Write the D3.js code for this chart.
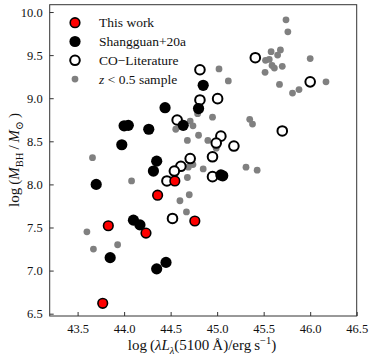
<!DOCTYPE html>
<html>
<head>
<meta charset="utf-8">
<script src="https://cdn.jsdelivr.net/npm/d3@7"></script>
<style>
  body { margin: 0; background: #fff; }
  text { font-family: "Liberation Serif", "DejaVu Serif", serif; }
</style>
</head>
<body>
<div id="chart"></div>
<script>
// data: [log L5100, log MBH]
const thisWork = [
  [43.77, 6.62], [43.83, 7.52], [44.235, 7.435], [44.36, 7.875],
  [44.545, 8.04], [44.76, 7.575]
]
const shangguan = [
  [43.70, 8.00], [43.85, 7.15], [44.00, 8.68], [44.045, 8.685], [43.975, 8.46],
  [44.10, 7.585], [44.17, 7.53], [44.265, 8.64], [44.315, 8.155], [44.35, 8.27],
  [44.35, 7.02], [44.45, 7.095], [44.44, 8.89], [44.635, 8.685], [44.80, 8.88],
  [44.85, 9.15], [45.04, 8.11], [45.06, 8.10]
]
const coLit = [
  [44.815, 9.33], [44.815, 8.98], [45.005, 8.995], [45.41, 9.47], [46.00, 9.19],
  [45.70, 8.62], [45.04, 8.56], [44.99, 8.48], [45.18, 8.445], [44.95, 8.32],
  [44.71, 8.30], [44.61, 8.21], [44.54, 8.155], [44.46, 8.04], [44.95, 8.09],
  [44.52, 7.605], [44.57, 8.747]
]
const lowZ = [
  [43.60, 7.45], [43.67, 7.25], [43.66, 8.31], [43.93, 7.30], [44.08, 8.04],
  [44.555, 8.64], [44.60, 7.81], [44.67, 7.68], [44.70, 7.88], [44.68, 8.08],
  [44.69, 8.20], [44.74, 8.23], [44.85, 8.18], [44.68, 8.51], [44.90, 8.51],
  [44.80, 8.57], [44.71, 8.735], [44.74, 8.68], [44.79, 8.82], [44.95, 8.78],
  [44.99, 8.42], [45.31, 8.20], [45.43, 8.165], [45.35, 8.755], [45.38, 8.70],
  [45.02, 9.34], [45.12, 9.20], [45.74, 9.91], [45.76, 9.77], [45.58, 9.54],
  [45.68, 9.56], [45.65, 9.50], [45.52, 9.44], [45.56, 9.45], [45.59, 9.38],
  [45.615, 9.35], [45.70, 9.37], [45.515, 9.30], [46.00, 9.46], [45.67, 9.16],
  [45.81, 9.06], [45.88, 9.10], [46.17, 9.19]
]
const xTicks = [43.5, 44.0, 44.5, 45.0, 45.5, 46.0, 46.5]
const yTicks = [6.5, 7.0, 7.5, 8.0, 8.5, 9.0, 9.5, 10.0]
const legendLabels = ["This work", "Shangguan+20a", "CO\u2212Literature", "z < 0.5 sample"]

const width = 374, height = 359
const svg = d3.select("#chart").append("svg")
  .attr("width", width)
  .attr("height", height)

const x = d3.scaleLinear().domain([43.2, 46.5]).range([49.7, 356.7])
const y = d3.scaleLinear().domain([6.473, 10.085]).range([316, 4.7])

// axes, ticks pointing inward
let xAxis = svg.append("g")
  .attr("transform", `translate(0,${y.range()[0]})`)
  .call(d3.axisBottom(x).tickValues(xTicks).tickFormat(d3.format(".1f"))
    .tickSizeInner(-4).tickSizeOuter(0).tickPadding(8))
let yAxis = svg.append("g")
  .attr("transform", `translate(${x.range()[0]},0)`)
  .call(d3.axisLeft(y).tickValues(yTicks).tickFormat(d3.format(".1f"))
    .tickSizeInner(-4).tickSizeOuter(0).tickPadding(7))

for (let ax of [xAxis, yAxis]) {
  ax.select(".domain").remove()
  ax.selectAll("line").attr("stroke", "#333")
  ax.selectAll("text")
    .style("font-size", "12.5px")
    .attr("fill", "#111")
}

// frame
svg.append("rect")
  .attr("x", x.range()[0])
  .attr("y", y.range()[1])
  .attr("width", x.range()[1] - x.range()[0])
  .attr("height", y.range()[0] - y.range()[1])
  .attr("fill", "none")
  .attr("stroke", "#333")
  .attr("stroke-width", 1)

const plot = svg.append("g")

plot.selectAll("circle.lowz").data(lowZ).enter().append("circle")
  .attr("class", "lowz")
  .attr("cx", d => x(d[0])).attr("cy", d => y(d[1]))
  .attr("r", 3.4)
  .attr("fill", "#808080")

plot.selectAll("circle.co").data(coLit).enter().append("circle")
  .attr("class", "co")
  .attr("cx", d => x(d[0])).attr("cy", d => y(d[1]))
  .attr("r", 4.8)
  .attr("fill", "#fff").attr("stroke", "#000").attr("stroke-width", 2)

plot.selectAll("circle.sg").data(shangguan).enter().append("circle")
  .attr("class", "sg")
  .attr("cx", d => x(d[0])).attr("cy", d => y(d[1]))
  .attr("r", 5.6)
  .attr("fill", "#000")

plot.selectAll("circle.tw").data(thisWork).enter().append("circle")
  .attr("class", "tw")
  .attr("cx", d => x(d[0])).attr("cy", d => y(d[1]))
  .attr("r", 4.8)
  .attr("fill", "#ff0000").attr("stroke", "#000").attr("stroke-width", 1.6)

// legend
const legend = svg.append("g")
const legendStyles = [
  {r: 4.8, fill: "#ff0000", stroke: "#000", sw: 1.6},
  {r: 5.6, fill: "#000", stroke: "none", sw: 0},
  {r: 4.8, fill: "#fff", stroke: "#000", sw: 2},
  {r: 3.4, fill: "#808080", stroke: "none", sw: 0}
]
legendLabels.forEach((lab, i) => {
  let cy = 22.7 + i * 18.8
  let s = legendStyles[i]
  legend.append("circle")
    .attr("cx", 75).attr("cy", cy).attr("r", s.r)
    .attr("fill", s.fill).attr("stroke", s.stroke).attr("stroke-width", s.sw)
  let t = legend.append("text")
    .attr("x", 99).attr("y", cy + 4.5)
    .style("font-size", "13.5px")
    .attr("fill", "#111")
  if (i === 3) {
    t.append("tspan").attr("font-style", "italic").text("z")
    t.append("tspan").text(" < 0.5 sample")
  } else {
    t.text(lab)
  }
})

// x label
let xl = svg.append("text")
  .attr("x", 202).attr("y", 350)
  .attr("text-anchor", "middle")
  .style("font-size", "15px")
  .attr("fill", "#111")
xl.append("tspan").text("log\u2009(")
xl.append("tspan").attr("font-style", "italic").text("\u03bbL")
xl.append("tspan").attr("font-style", "italic").attr("dy", 3.5).style("font-size", "10.5px").text("\u03bb")
xl.append("tspan").attr("dy", -3.5).text("(5100\u2009\u00c5)/erg\u2009s")
xl.append("tspan").attr("dy", -6).style("font-size", "10.5px").text("\u22121")
xl.append("tspan").attr("dy", 6).text(")")

// y label
let yl = svg.append("text")
  .attr("transform", "translate(19,160) rotate(-90)")
  .attr("text-anchor", "middle")
  .style("font-size", "15px")
  .attr("fill", "#111")
yl.append("tspan").text("log\u2009(")
yl.append("tspan").attr("font-style", "italic").text("M")
yl.append("tspan").attr("dy", 3.5).style("font-size", "10.5px").text("BH")
yl.append("tspan").attr("dy", -3.5).text("\u2009/\u2009")
yl.append("tspan").attr("font-style", "italic").text("M")
yl.append("tspan").attr("dy", 3.5).style("font-size", "10.5px").text("\u2299")
yl.append("tspan").attr("dy", -3.5).text("\u2009)")
</script>
</body>
</html>
